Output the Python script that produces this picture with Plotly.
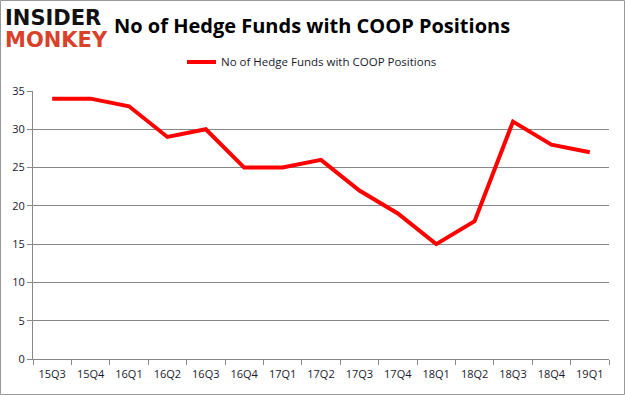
import plotly.graph_objects as go

quarters = ["15Q3", "15Q4", "16Q1", "16Q2", "16Q3", "16Q4", "17Q1", "17Q2",
            "17Q3", "17Q4", "18Q1", "18Q2", "18Q3", "18Q4", "19Q1"]
hedge_funds = [34, 34, 33, 29, 30, 25, 25, 26, 22, 19, 15, 18, 31, 28, 27]
series_name = "No of Hedge Funds with COOP Positions"
y_ticks = [0, 5, 10, 15, 20, 25, 30, 35]

W, H = 625, 395
fig = go.Figure()
fig.add_trace(go.Scatter(
    x=quarters, y=hedge_funds, mode="lines", name=series_name,
    line=dict(color="#ff0000", width=4), showlegend=False,
))

font_family = "Open Sans, Liberation Sans, sans-serif"
x0, x1 = 33, 609
ytop, ybot = 91, 359

fig.update_layout(
    width=W, height=H,
    margin=dict(l=0, r=0, t=0, b=0),
    paper_bgcolor="white", plot_bgcolor="white",
    font=dict(family=font_family, size=11, color="#333333"),
    xaxis=dict(
        domain=[x0 / W, x1 / W],
        type="category", range=[-0.5, len(quarters) - 0.5],
        showline=True, linecolor="#888888", linewidth=1,
        ticks="outside", tickson="boundaries", ticklen=5, tickcolor="#888888",
        showgrid=False, tickfont=dict(size=11, color="#1a1a2e"),
        ticklabelstandoff=5,
        fixedrange=True, automargin=False,
    ),
    yaxis=dict(
        domain=[(H - ybot) / H, (H - ytop) / H],
        range=[0, 35], tickvals=y_ticks,
        showline=True, linecolor="#888888", linewidth=1,
        ticks="outside", ticklen=5, tickcolor="#888888",
        showgrid=True, gridcolor="#888888", gridwidth=1,
        zeroline=False, tickfont=dict(size=11, color="#1a1a2e"),
        fixedrange=True, automargin=False,
    ),
    showlegend=False,
)

# Title
fig.add_annotation(
    x=312 / W, y=1 - 25 / H, xref="paper", yref="paper",
    text="<b>No of Hedge Funds with COOP Positions</b>",
    showarrow=False, xanchor="center", yanchor="middle",
    font=dict(family=font_family, size=20, color="#000000"),
)
# Legend (manual)
fig.add_shape(type="line", xref="paper", yref="paper",
              x0=187 / W, x1=216 / W, y0=1 - 62 / H, y1=1 - 62 / H,
              line=dict(color="#ff0000", width=4))
fig.add_annotation(
    x=219 / W, y=1 - 62 / H, xref="paper", yref="paper",
    text=series_name, showarrow=False, xanchor="left", yanchor="middle",
    font=dict(family=font_family, size=11.5, color="#1a1a2e"),
)
# Logo
fig.add_annotation(
    x=3 / W, y=1 - 18 / H, xref="paper", yref="paper",
    text="<b>INSIDER</b>", showarrow=False, xanchor="left", yanchor="middle",
    font=dict(family="DejaVu Sans", size=21, color="#111111"),
)
fig.add_annotation(
    x=3 / W, y=1 - 40 / H, xref="paper", yref="paper",
    text="<b>MONKEY</b>", showarrow=False, xanchor="left", yanchor="middle",
    font=dict(family="DejaVu Sans", size=21, color="#d9412b"),
)
# Outer border
fig.add_shape(type="rect", xref="paper", yref="paper",
              x0=0.5 / W, x1=1 - 0.5 / W, y0=0.5 / H, y1=1 - 0.5 / H,
              line=dict(color="#999999", width=1))

fig.write_html(
    "out.html",
    config={"displayModeBar": False},
    post_script="document.body.style.margin='0';document.body.style.overflow='hidden';",
)
